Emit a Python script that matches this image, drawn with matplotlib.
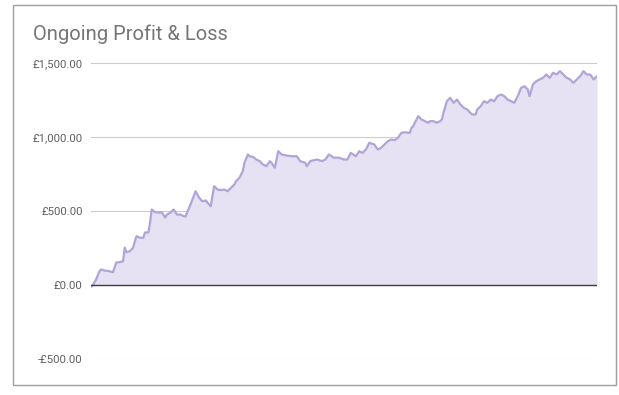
import matplotlib
matplotlib.use("Agg")
import matplotlib.pyplot as plt
from matplotlib.patches import Rectangle
from matplotlib.ticker import FuncFormatter

# ---- data (trade number, cumulative P&L in GBP) ----
trade_no = [0, 1, 3, 5, 6, 8, 11, 13, 15, 17, 19, 20, 21, 23, 25, 26, 27, 29, 31, 32,
            34, 35, 36, 38, 40, 42, 44, 45, 47, 49, 51, 53, 55, 56, 59, 62, 63, 64, 66, 68,
            70, 71, 73, 75, 77, 79, 81, 83, 85, 86, 88, 90, 91, 93, 94, 96, 98, 100, 102, 104,
            106, 107, 109, 111, 113, 116, 119, 122, 124, 127, 128, 130, 132, 134, 137, 139, 141, 144, 147, 150,
            152, 154, 157, 159, 161, 163, 165, 168, 170, 172, 174, 176, 178, 180, 182, 184, 186, 189, 190, 191,
            193, 194, 196, 198, 200, 201, 203, 205, 207, 208, 209, 211, 213, 215, 217, 219, 221, 223, 224, 226,
            228, 229, 231, 233, 235, 237, 239, 241, 243, 245, 247, 249, 251, 253, 255, 257, 259, 260, 262, 264,
            266, 268, 270, 272, 274, 276, 278, 280, 282, 284, 286, 288, 290, 292, 294, 296, 298, 300]

pnl = [-12, -3, 37, 93, 105, 98, 93, 86, 152, 154, 161, 253, 222, 228, 253, 296, 330, 319, 319, 355,
       355, 422, 510, 492, 490, 490, 456, 476, 488, 510, 476, 476, 465, 463, 544, 634, 612, 591, 566, 571,
       544, 532, 668, 645, 641, 645, 634, 657, 679, 701, 724, 769, 826, 882, 870, 866, 848, 837, 814, 803,
       837, 826, 792, 904, 882, 875, 870, 870, 837, 826, 803, 837, 843, 848, 837, 848, 882, 860, 860, 848,
       848, 893, 870, 904, 893, 916, 961, 949, 916, 927, 949, 972, 983, 978, 995, 1028, 1032, 1028, 1062, 1073,
       1118, 1141, 1118, 1107, 1096, 1107, 1107, 1096, 1107, 1118, 1164, 1242, 1265, 1231, 1253, 1220, 1197, 1186, 1174, 1152,
       1152, 1186, 1208, 1242, 1231, 1253, 1242, 1276, 1287, 1276, 1253, 1242, 1231, 1276, 1332, 1343, 1321, 1276, 1355, 1377,
       1389, 1400, 1422, 1400, 1434, 1422, 1445, 1422, 1400, 1389, 1366, 1389, 1411, 1445, 1422, 1422, 1389, 1411]

y_ticks = [-500, 0, 500, 1000, 1500]
title = "Ongoing Profit & Loss"

plt.rcParams['font.family'] = ['Roboto', 'DejaVu Sans']

W, H = 619, 395
fig = plt.figure(figsize=(W / 100, H / 100), dpi=100)
fig.patch.set_facecolor("white")

# outer border
fig.patches.append(Rectangle((12.5 / W, 10 / H), 603 / W, 380 / H,
                             transform=fig.transFigure, fill=False,
                             edgecolor="#9e9e9e", linewidth=1.0))

ax = fig.add_axes([91 / W, 36 / H, 506 / W, 296 / H])
ax.set_xlim(min(trade_no), max(trade_no))
ax.set_ylim(-500, 1500)

ax.fill_between(trade_no, pnl, 0, color="#e6e1f3", linewidth=0, zorder=1)
ax.plot(trade_no, pnl, color="#b1a4d6", linewidth=1.6, zorder=3)

ax.set_yticks(y_ticks)
ax.yaxis.set_major_formatter(FuncFormatter(
    lambda v, p: ("-£{:,.2f}".format(-v) if v < 0 else "£{:,.2f}".format(v))))
ax.tick_params(axis="y", length=0, pad=6, labelsize=8.2, labelcolor="#5f5f5f")
ax.set_xticks([])
for y in y_ticks:
    if y == 0:
        ax.axhline(y, color="#3c3a4a", linewidth=1.0, zorder=4)
    else:
        ax.axhline(y, color="#cccccc", linewidth=0.8, zorder=0)
for s in ax.spines.values():
    s.set_visible(False)
ax.set_facecolor("none")

fig.text(33 / W, 1 - 34 / H, title, fontsize=14.5, color="#757575",
         va="center", ha="left")

fig.savefig("out.png", dpi=100)
